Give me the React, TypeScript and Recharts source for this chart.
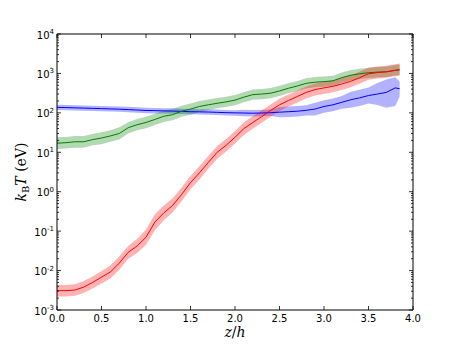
import React from "react";
import { ComposedChart, Area, Line, XAxis, YAxis } from "recharts";

const zh = [0, 0.1, 0.2, 0.3, 0.4, 0.5, 0.6, 0.7, 0.8, 0.9, 1.0, 1.1, 1.2, 1.3, 1.4, 1.5, 1.6, 1.7, 1.8, 1.9, 2.0, 2.1, 2.2, 2.3, 2.4, 2.5, 2.6, 2.7, 2.8, 2.9, 3.0, 3.1, 3.2, 3.3, 3.4, 3.5, 3.6, 3.7, 3.8, 3.85];

const blueT = [138, 136, 134, 132, 130, 128, 126, 124, 121, 118, 115, 114, 112, 111, 109, 107, 106, 105, 103, 101, 100, 99, 98, 99, 101, 104, 107, 110, 116, 125, 145, 160, 185, 215, 240, 275, 300, 330, 430, 410];
const blueLo = [118, 116, 115, 113, 111, 110, 108, 106, 104, 101, 98, 97, 96, 95, 93, 92, 91, 90, 88, 86, 85, 82, 81, 82, 83, 77, 79, 81, 86, 86, 100, 110, 128, 134, 150, 172, 158, 135, 150, 260];
const blueHi = [161, 159, 157, 154, 152, 150, 147, 145, 142, 138, 135, 133, 131, 130, 128, 125, 124, 123, 121, 118, 117, 120, 119, 120, 122, 140, 144, 149, 157, 181, 210, 232, 268, 344, 384, 440, 570, 700, 800, 620];

const greenT = [17, 17.5, 18.5, 18.5, 21, 23, 26, 30, 42, 50, 57, 68, 82, 90, 110, 125, 145, 160, 175, 190, 210, 250, 290, 300, 315, 360, 420, 480, 560, 600, 620, 650, 780, 900, 980, 1040, 1080, 1100, 1200, 1230];
const greenLo = [12, 12.5, 13, 13, 15, 16, 18.5, 21, 30, 36, 41, 49, 59, 65, 80, 90, 105, 118, 130, 140, 155, 185, 215, 222, 235, 268, 312, 356, 415, 445, 460, 482, 580, 665, 725, 770, 800, 815, 880, 900];
const greenHi = [24, 24.5, 26, 26, 29, 32, 36, 43, 58, 70, 80, 95, 114, 125, 152, 172, 200, 218, 238, 258, 285, 338, 392, 405, 425, 485, 565, 645, 755, 810, 835, 875, 1050, 1220, 1320, 1400, 1460, 1500, 1640, 1680];

const redT = [0.0031, 0.0031, 0.0032, 0.0038, 0.005, 0.0068, 0.0092, 0.0155, 0.029, 0.042, 0.07, 0.17, 0.29, 0.45, 0.85, 1.7, 3.0, 5.5, 10, 15, 24, 40, 57, 80, 115, 160, 205, 260, 330, 390, 430, 470, 540, 630, 780, 980, 1050, 1100, 1200, 1250];
const redLo = [0.0022, 0.0022, 0.0023, 0.0027, 0.0035, 0.0047, 0.0063, 0.0105, 0.02, 0.028, 0.045, 0.105, 0.19, 0.3, 0.57, 1.15, 2.05, 3.8, 6.9, 10.4, 16.6, 27.6, 39.5, 56, 80, 112, 144, 183, 232, 275, 303, 331, 380, 444, 550, 690, 740, 775, 845, 880];
const redHi = [0.0043, 0.0043, 0.0045, 0.0054, 0.0071, 0.0098, 0.0135, 0.023, 0.042, 0.063, 0.11, 0.27, 0.45, 0.68, 1.27, 2.5, 4.4, 8.0, 14.5, 21.7, 34.8, 58, 82, 114, 164, 228, 292, 370, 468, 553, 610, 667, 766, 894, 1100, 1390, 1490, 1560, 1700, 1775];

const xTicks = [0, 0.5, 1.0, 1.5, 2.0, 2.5, 3.0, 3.5, 4.0];
const decades = [-3, -2, -1, 0, 1, 2, 3, 4];
const minorMult = [1, 2, 3, 4, 5, 6, 7, 8, 9];

const yTicks: number[] = [];
decades.forEach((e) => {
  minorMult.forEach((m) => {
    const v = m * Math.pow(10, e);
    if (v <= 1e4) yTicks.push(v);
  });
});

const data = zh.map((z, i) => ({
  z,
  blue: blueT[i],
  blueBand: [blueLo[i], blueHi[i]],
  green: greenT[i],
  greenBand: [greenLo[i], greenHi[i]],
  red: redT[i],
  redBand: [redLo[i], redHi[i]],
}));

const font = "DejaVu Sans, sans-serif";

function isMajor(v: number) {
  const e = Math.round(Math.log10(v));
  return Math.abs(v - Math.pow(10, e)) < 1e-9 * v;
}

const LeftTick = (props: any) => {
  const { x, y, payload } = props;
  const v = payload.value;
  const major = isMajor(v);
  const e = Math.round(Math.log10(v));
  return (
    <g>
      <line x1={x} x2={x + (major ? 4 : 2)} y1={y} y2={y} stroke="#000" strokeWidth={0.8} />
      {major && (
        <text x={x - 3} y={y + 4.5} textAnchor="end" fontFamily={font} fontSize={10} fill="#000">
          10
          <tspan dy={-4.5} fontSize={7}>
            {e}
          </tspan>
        </text>
      )}
    </g>
  );
};

const RightTick = (props: any) => {
  const { x, y, payload } = props;
  const major = isMajor(payload.value);
  return <line x1={x} x2={x - (major ? 4 : 2)} y1={y} y2={y} stroke="#000" strokeWidth={0.8} />;
};

const BottomTick = (props: any) => {
  const { x, y, payload } = props;
  return (
    <g>
      <line x1={x} x2={x} y1={y} y2={y - 4} stroke="#000" strokeWidth={0.8} />
      <text x={x} y={y + 12} textAnchor="middle" fontFamily={font} fontSize={10} fill="#000">
        {payload.value.toFixed(1)}
      </text>
    </g>
  );
};

const TopTick = (props: any) => {
  const { x, y } = props;
  return <line x1={x} x2={x} y1={y} y2={y + 4} stroke="#000" strokeWidth={0.8} />;
};

export default function App() {
  return (
    <div style={{ position: "fixed", left: 0, top: 0, width: 458, height: 345, background: "#fff" }}>
      <ComposedChart width={458} height={345} data={data} margin={{ top: 0, right: 0, bottom: 0, left: 0 }}>
        <XAxis
          dataKey="z"
          type="number"
          domain={[0, 4]}
          ticks={xTicks}
          interval={0}
          height={35}
          tickSize={0}
          tickMargin={0}
          tickLine={false}
          axisLine={{ stroke: "#000" }}
          tick={<BottomTick />}
          allowDataOverflow
        />
        <XAxis
          xAxisId="top"
          orientation="top"
          dataKey="z"
          type="number"
          domain={[0, 4]}
          ticks={xTicks}
          interval={0}
          height={34}
          tickSize={0}
          tickMargin={0}
          tickLine={false}
          axisLine={{ stroke: "#000" }}
          tick={<TopTick />}
          allowDataOverflow
        />
        <YAxis
          scale="log"
          type="number"
          domain={[1e-3, 1e4]}
          ticks={yTicks}
          interval={0}
          width={57}
          tickSize={0}
          tickMargin={0}
          tickLine={false}
          axisLine={{ stroke: "#000" }}
          tick={<LeftTick />}
          allowDataOverflow
        />
        <YAxis
          yAxisId="right"
          orientation="right"
          scale="log"
          type="number"
          domain={[1e-3, 1e4]}
          ticks={yTicks}
          interval={0}
          width={45}
          tickSize={0}
          tickMargin={0}
          tickLine={false}
          axisLine={{ stroke: "#000" }}
          tick={<RightTick />}
          allowDataOverflow
        />
        <Area dataKey="blueBand" stroke="none" fill="#0000ff" fillOpacity={0.3} isAnimationActive={false} activeDot={false} />
        <Line dataKey="blue" stroke="#0000ff" strokeWidth={1} dot={false} isAnimationActive={false} />
        <Area dataKey="greenBand" stroke="none" fill="#008000" fillOpacity={0.3} isAnimationActive={false} activeDot={false} />
        <Line dataKey="green" stroke="#008000" strokeWidth={1} dot={false} isAnimationActive={false} />
        <Area dataKey="redBand" stroke="none" fill="#ff0000" fillOpacity={0.3} isAnimationActive={false} activeDot={false} />
        <Line dataKey="red" stroke="#ff0000" strokeWidth={1} dot={false} isAnimationActive={false} />
      </ComposedChart>
      <svg width={458} height={345} style={{ position: "absolute", left: 0, top: 0, pointerEvents: "none" }}>
        <text x={235} y={337} textAnchor="middle" fontFamily="DejaVu Serif, serif" fontSize={14} fill="#000">
          <tspan fontStyle="italic">z</tspan>/<tspan fontStyle="italic">h</tspan>
        </text>
        <text
          transform="translate(26,172) rotate(-90)"
          textAnchor="middle"
          fontFamily="DejaVu Serif, serif"
          fontSize={14}
          fill="#000"
        >
          <tspan fontStyle="italic">k</tspan>
          <tspan fontSize={10} dy={3}>B</tspan>
          <tspan fontStyle="italic" dy={-3}>T</tspan>
          <tspan> (eV)</tspan>
        </text>
      </svg>
    </div>
  );
}
